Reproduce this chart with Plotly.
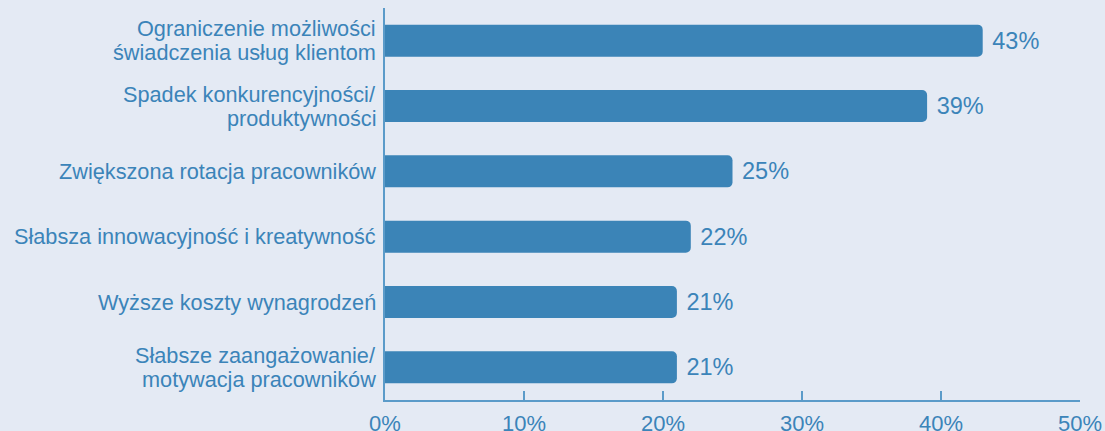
import plotly.graph_objects as go

categories = [
    "Ograniczenie możliwości<br>świadczenia usług klientom",
    "Spadek konkurencyjności/<br>produktywności",
    "Zwiększona rotacja pracowników",
    "Słabsza innowacyjność i kreatywność",
    "Wyższe koszty wynagrodzeń",
    "Słabsze zaangażowanie/<br>motywacja pracowników",
]
values = [43, 39, 25, 22, 21, 21]
tick_vals = [0, 10, 20, 30, 40, 50]
tick_text = ["0%", "10%", "20%", "30%", "40%", "50%"]

BG = "#e4eaf4"
BAR = "#3b84b7"
TXT = "#3b84b9"
AX = "#5b9bc9"
FONT = "Liberation Sans, Arial, sans-serif"

fig = go.Figure(go.Bar(
    x=values, y=categories, orientation="h",
    marker=dict(color=BAR, line=dict(width=0)),
    text=[f" {v}%" for v in values], textposition="outside",
    textfont=dict(size=23.5, color=TXT, family=FONT),
    cliponaxis=False, hoverinfo="skip",
))

LINE_H = 24
annotations = []
for cat in categories:
    lines = cat.split("<br>")
    n = len(lines)
    for i, ln in enumerate(lines):
        annotations.append(dict(
            x=0, y=cat, xref="x", yref="y", text=ln, showarrow=False,
            xanchor="right", yanchor="middle", xshift=-7,
            yshift=((n - 1) / 2 - i) * LINE_H,
            font=dict(size=21.7, color=TXT, family=FONT),
        ))

fig.update_layout(
    width=1105, height=431,
    paper_bgcolor=BG, plot_bgcolor=BG,
    margin=dict(l=385, r=25, t=8, b=31, autoexpand=False),
    bargap=0.51, barcornerradius=5,
    showlegend=False,
    font=dict(family=FONT, color=TXT, size=22),
    annotations=annotations,
)
fig.update_xaxes(
    range=[0, 50], tickvals=tick_vals, ticktext=tick_text,
    showgrid=False, zeroline=False, automargin=False,
    showline=True, linecolor=AX, linewidth=1.5,
    ticks="inside", ticklen=9, tickcolor=AX, tickwidth=1.5,
    tickfont=dict(size=22, color=TXT, family=FONT),
    ticklabelstandoff=3,
)
fig.update_yaxes(
    autorange="reversed", showgrid=False, zeroline=False, automargin=False,
    showline=True, linecolor=AX, linewidth=1.5,
    ticks="", showticklabels=False,
)
fig.write_html(
    "out.html",
    config={"displayModeBar": False},
    post_script="document.body.style.margin='0';document.body.style.background='%s';" % BG,
)
